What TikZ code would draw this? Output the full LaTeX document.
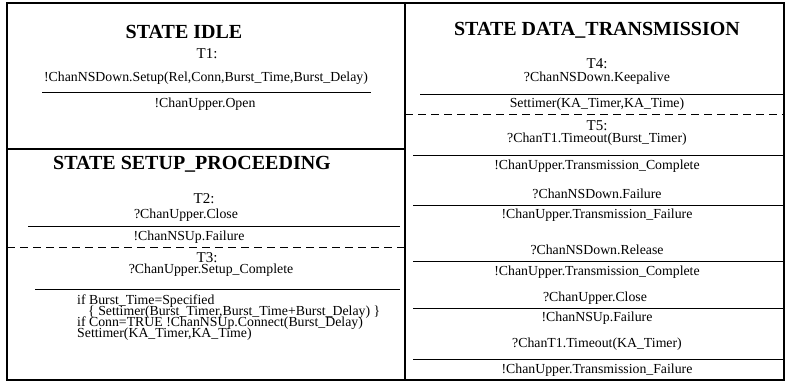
\documentclass[tikz,border=0pt]{standalone}
\usepackage{fontspec}
\setmainfont{Liberation Serif}
\begin{document}
\begin{tikzpicture}[x=1pt,y=-1pt,
  heading/.style={font=\fontsize{20}{22}\selectfont\bfseries, inner sep=0pt},
  tlabel/.style={font=\fontsize{15}{17}\selectfont, inner sep=0pt},
  txt/.style={font=\fontsize{13.8}{15}\selectfont, inner sep=0pt},
  code/.style={font=\fontsize{13.8}{15}\selectfont, inner sep=0pt, anchor=west},
  frame/.style={line width=1.6pt},
  sep/.style={line width=1pt},
  dsep/.style={line width=1pt, dash pattern=on 8pt off 5pt}]
\useasboundingbox (0,0) rectangle (785,386);

% outer frame and column dividers
\draw[frame] (7,3) rectangle (784,380);
\draw[frame] (405,3) -- (405,380);
\draw[frame] (7,149) -- (405,149);

% ---- STATE IDLE ----
\node[heading] (idle) at (184,32) {STATE IDLE};
\node[tlabel] (t1) at (207,54) {T1:};
\node[txt] (t1in) at (206,78) {!ChanNSDown.Setup(Rel,Conn,Burst\_Time,Burst\_Delay)};
\draw[sep] (42,92) -- (371,92);
\node[txt] (t1out) at (205,104) {!ChanUpper.Open};

% ---- STATE SETUP_PROCEEDING ----
\node[heading] (setup) at (192,164) {STATE SETUP\_PROCEEDING};
\node[tlabel] (t2) at (204,199) {T2:};
\node[txt] (t2in) at (186,215) {?ChanUpper.Close};
\draw[sep] (28,226) -- (400,226);
\node[txt] (t2out) at (189,237) {!ChanNSUp.Failure};
\draw[dsep] (7,247) -- (405,247);
\node[tlabel] (t3) at (207,258) {T3:};
\node[txt] (t3in) at (211,270) {?ChanUpper.Setup\_Complete};
\draw[sep] (35,289) -- (400,289);
\node[code] (c1) at (77,301) {if Burst\_Time=Specified};
\node[code] (c2) at (88,312) {\{ Settimer(Burst\_Timer,Burst\_Time+Burst\_Delay) \}};
\node[code] (c3) at (77,323) {if Conn=TRUE !ChanNSUp.Connect(Burst\_Delay)};
\node[code] (c4) at (77,334) {Settimer(KA\_Timer,KA\_Time)};

% ---- STATE DATA_TRANSMISSION ----
\node[heading] (data) at (597,30) {STATE DATA\_TRANSMISSION};
\node[tlabel] (t4) at (597,64) {T4:};
\node[txt] (t4in) at (597,78) {?ChanNSDown.Keepalive};
\draw[sep] (420,94) -- (783,94);
\node[txt] (t4out) at (597,104) {Settimer(KA\_Timer,KA\_Time)};
\draw[dsep] (405,114) -- (785,114);
\node[tlabel] (t5) at (597,126) {T5:};
\node[txt] (t5in) at (597,139) {?ChanT1.Timeout(Burst\_Timer)};
\draw[sep] (413,155) -- (783,155);
\node[txt] (t5out) at (597,166) {!ChanUpper.Transmission\_Complete};
\node[txt] (f1in) at (597,194) {?ChanNSDown.Failure};
\draw[sep] (413,205) -- (783,205);
\node[txt] (f1out) at (597,215) {!ChanUpper.Transmission\_Failure};
\node[txt] (r1in) at (597,250) {?ChanNSDown.Release};
\draw[sep] (413,261) -- (783,261);
\node[txt] (r1out) at (597,272) {!ChanUpper.Transmission\_Complete};
\node[txt] (c5in) at (595,298) {?ChanUpper.Close};
\draw[sep] (413,308) -- (783,308);
\node[txt] (c5out) at (597,318) {!ChanNSUp.Failure};
\node[txt] (k1in) at (597,344) {?ChanT1.Timeout(KA\_Timer)};
\draw[sep] (413,359) -- (783,359);
\node[txt] (k1out) at (597,370) {!ChanUpper.Transmission\_Failure};
\end{tikzpicture}
\end{document}
